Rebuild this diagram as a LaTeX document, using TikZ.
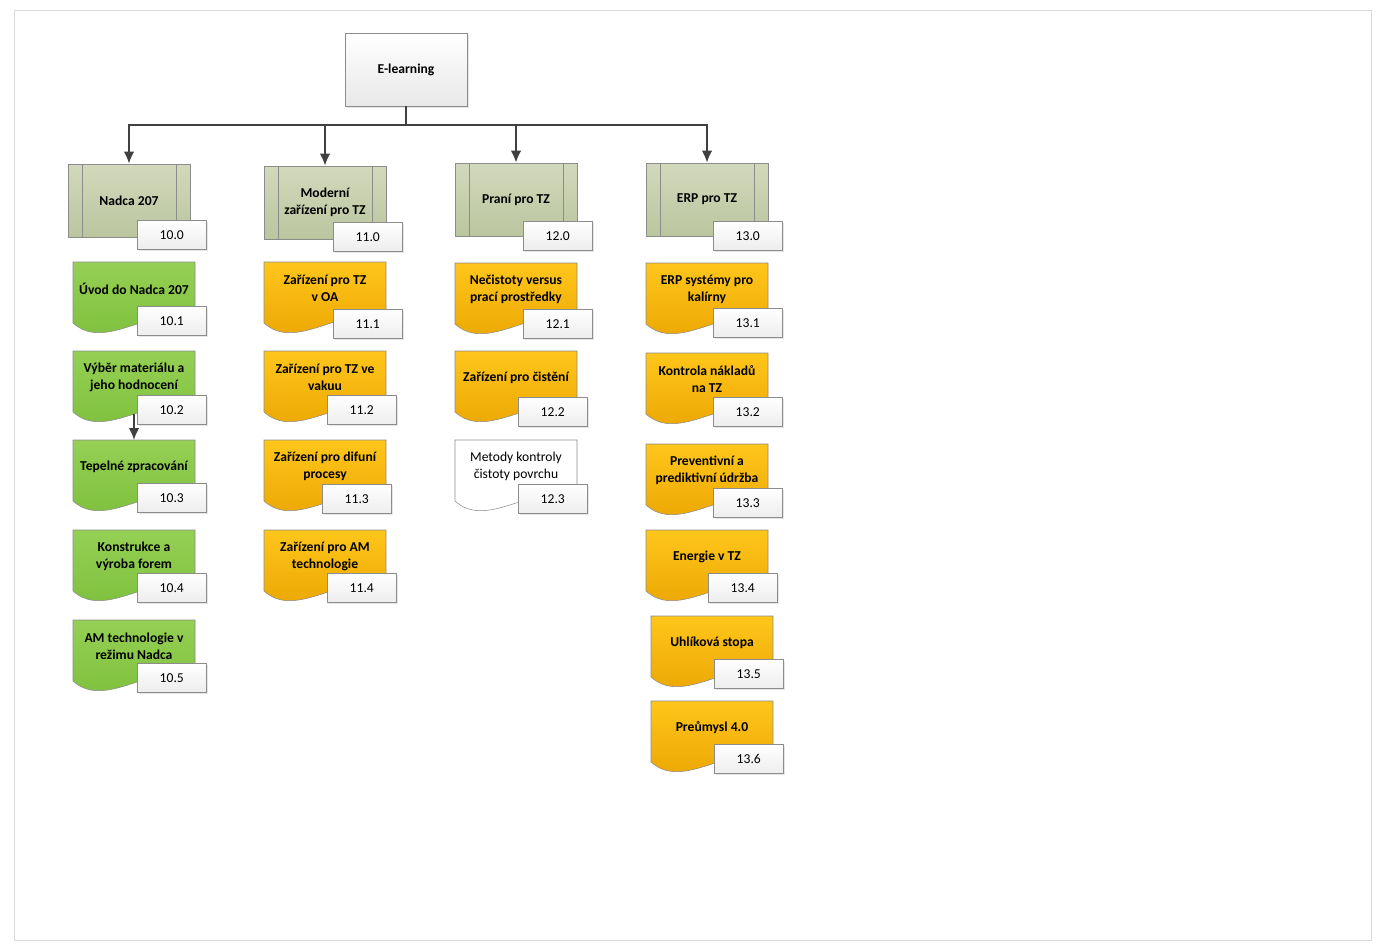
\documentclass[tikz,border=0pt]{standalone}
\usepackage{fontspec}
\setmainfont{Carlito}
\usetikzlibrary{arrows.meta,shadows}

\definecolor{framegray}{HTML}{D9D9D9}
\definecolor{linegray}{HTML}{404040}
\definecolor{bordergray}{HTML}{8C8C8C}
\definecolor{olivetop}{HTML}{D2D9BC}
\definecolor{olivebot}{HTML}{BBC59E}
\definecolor{greentop}{HTML}{95D054}
\definecolor{greenbot}{HTML}{7BBE3A}
\definecolor{orangetop}{HTML}{FFC61A}
\definecolor{orangebot}{HTML}{E9A200}

% one document shape: name, left, top, colour style, text, label left, label top, label
\newcommand{\docitem}[8]{%
  \begin{scope}[shift={(#2,#3)}]
    \draw[docshape, #4] (0,0) -- (122,0) -- (122,50)
      .. controls (70,50) and (30,88) .. (0,61) -- cycle;
    \node[doctext] (#1) at (61,26.5) {#5};
    \coordinate (#1t) at (61,0);
    \coordinate (#1b) at (61,63);
  \end{scope}
  \node[numbox] (#1n) at (#6,#7) {#8};
}

\begin{document}
\begin{tikzpicture}[x=0.75pt, y=-0.75pt, semithick,
                    font = \fontsize{10.2}{12.75}\selectfont,
                    conn/.style    = {-{Latex[length=9pt,width=8pt]},
                                      draw = linegray,
                                      line width = 1.4pt},
                    topbox/.style  = {rectangle,
                                      top color = white,
                                      bottom color = gray!18,
                                      draw = bordergray,
                                      drop shadow = {shadow xshift = 1.5pt,
                                                     shadow yshift = -1.5pt,
                                                     opacity = 0.2},
                                      minimum width = 91.5pt,
                                      minimum height = 54.75pt,
                                      font = \fontsize{10.2}{12.75}\selectfont\bfseries},
                    head/.style    = {rectangle,
                                      top color = olivetop,
                                      bottom color = olivebot,
                                      draw = bordergray,
                                      minimum width = 91.5pt,
                                      minimum height = 54.75pt,
                                      align = center,
                                      font = \fontsize{10.2}{12.75}\selectfont\bfseries,
                                      path picture = {
                                        \draw[bordergray]
                                          ([xshift=10.5pt]path picture bounding box.north west) --
                                          ([xshift=10.5pt]path picture bounding box.south west);
                                        \draw[bordergray]
                                          ([xshift=-10.5pt]path picture bounding box.north east) --
                                          ([xshift=-10.5pt]path picture bounding box.south east);}},
                    docshape/.style = {draw = bordergray, thin},
                    green/.style   = {top color = greentop, bottom color = greenbot},
                    orange/.style  = {top color = orangetop, bottom color = orangebot},
                    plain/.style   = {fill = white},
                    doctext/.style = {align = center, inner sep = 0pt,
                                      font = \fontsize{10.2}{12.75}\selectfont\bfseries},
                    numbox/.style  = {rectangle,
                                      anchor = north west,
                                      top color = white,
                                      bottom color = gray!14,
                                      draw = bordergray,
                                      thin,
                                      drop shadow = {shadow xshift = 1.5pt,
                                                     shadow yshift = -1.5pt,
                                                     opacity = 0.2},
                                      inner sep = 0pt,
                                      minimum width = 51.75pt,
                                      minimum height = 21.75pt}]

\useasboundingbox (0,0) rectangle (1381,947);
\draw[framegray, thin] (14,10) rectangle (1371,940);

% top level
\node[topbox] (elearn) at (406,69.5) {E-learning};

\node[head] (h10) at (129,200.5) {Nadca 207};
\node[head] (h11) at (325,202.5) {Moderní\\zařízení pro TZ};
\node[head] (h12) at (516,199.5) {Praní pro TZ};
\node[head] (h13) at (707,199.5) {ERP pro TZ};

\node[numbox] (h10n) at (137,220) {10.0};
\node[numbox] (h11n) at (333,222) {11.0};
\node[numbox] (h12n) at (523,221) {12.0};
\node[numbox] (h13n) at (713,221) {13.0};

% Nadca 207
\docitem{d101}{73}{262}{green}{Úvod do Nadca 207}{137}{306}{10.1}
\docitem{d102}{73}{351}{green}{Výběr materiálu a\\jeho hodnocení}{137}{395}{10.2}
\docitem{d103}{73}{440}{green}{Tepelné zpracování}{137}{483}{10.3}
\docitem{d104}{73}{530}{green}{Konstrukce a\\výroba forem}{137}{573}{10.4}
\docitem{d105}{73}{620}{green}{AM technologie v\\režimu Nadca}{137}{663}{10.5}

% Moderni zarizeni
\docitem{d111}{264}{262}{orange}{Zařízení pro TZ\\v OA}{333}{309}{11.1}
\docitem{d112}{264}{351}{orange}{Zařízení pro TZ ve\\vakuu}{327}{395}{11.2}
\docitem{d113}{264}{440}{orange}{Zařízení pro difuní\\procesy}{322}{484}{11.3}
\docitem{d114}{264}{530}{orange}{Zařízení pro AM\\technologie}{327}{573}{11.4}

% Prani
\docitem{d121}{455}{263}{orange}{Nečistoty versus\\prací prostředky}{523}{309}{12.1}
\docitem{d122}{455}{351}{orange}{Zařízení pro čistění}{518}{397}{12.2}
\docitem{d123}{455}{440}{plain}{\mdseries Metody kontroly\\\mdseries čistoty povrchu}{518}{484}{12.3}

% ERP
\docitem{d131}{646}{263}{orange}{ERP systémy pro\\kalírny}{713}{308}{13.1}
\docitem{d132}{646}{353}{orange}{Kontrola nákladů\\na TZ}{713}{397}{13.2}
\docitem{d133}{646}{444}{orange}{Preventivní a\\prediktivní údržba}{713}{488}{13.3}
\docitem{d134}{646}{530}{orange}{Energie v TZ}{708}{573}{13.4}
\docitem{d135}{651}{616}{orange}{Uhlíková stopa}{714}{659}{13.5}
\docitem{d136}{651}{701}{orange}{Preůmysl 4.0}{714}{744}{13.6}

% connectors
\draw[conn, -] (elearn.south) -- ++(0,19) coordinate (bus);
\foreach \h in {h10,h11,h12,h13}
  \draw[conn] (bus) -| (\h.north);
\draw[conn] (d102b) -- (d103t);

\end{tikzpicture}
\end{document}
